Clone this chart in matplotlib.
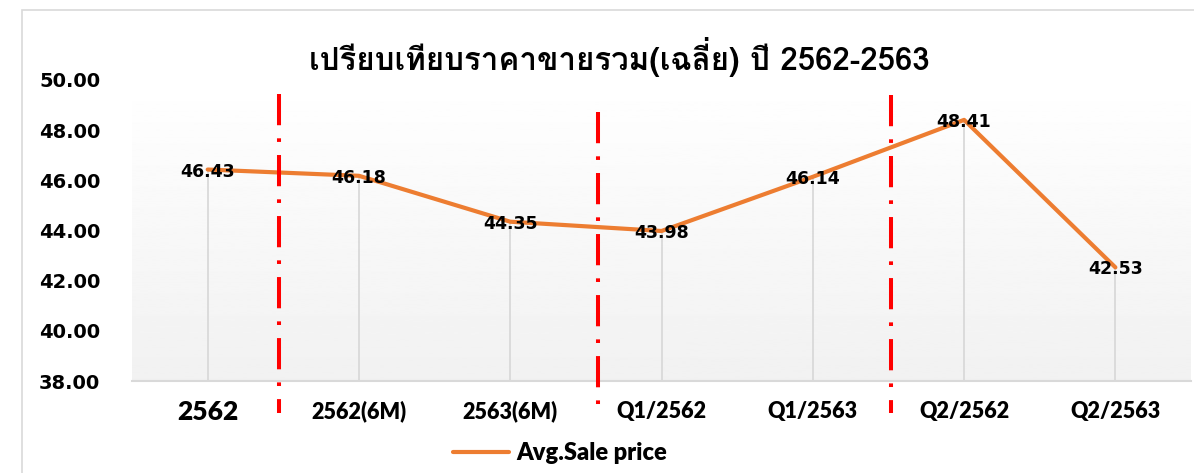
import numpy as np
import matplotlib
matplotlib.use("Agg")
import matplotlib.pyplot as plt
from matplotlib import font_manager
from matplotlib.ft2font import FT2Font
from matplotlib.patches import Rectangle

TITLE = "เปรียบเทียบราคาขายรวม(เฉลี่ย) ปี 2562-2563"
categories = ["2562", "2562(6M)", "2563(6M)", "Q1/2562", "Q1/2563", "Q2/2562", "Q2/2563"]
avg_price = [46.43, 46.18, 44.35, 43.98, 46.14, 48.41, 42.53]
y_ticks = [38, 40, 42, 44, 46, 48, 50]
series_name = "Avg.Sale price"

ORANGE = "#ED7D31"
LIGHT = "#D9D9D9"


def find_thai_font():
    # pick the first installed font that actually has Thai glyphs
    seen = set()
    for f in font_manager.fontManager.ttflist:
        if f.fname in seen:
            continue
        seen.add(f.fname)
        try:
            cmap = FT2Font(f.fname).get_charmap()
        except Exception:
            continue
        if 0x0E1B in cmap and 0x0E40 in cmap:
            return f.name
    return "DejaVu Sans"


thai_font = find_thai_font()

fig = plt.figure(figsize=(11.94, 4.73), dpi=100)
ax = fig.add_axes([0.1106, 0.1945, 0.8869, 0.6364])

x = np.arange(len(categories))

# soft vertical gradient behind the plot area
grad = np.linspace(1.0, 0.945, 256).reshape(-1, 1)
ax.imshow(grad, cmap="gray", vmin=0, vmax=1, aspect="auto",
          extent=[0, 1, 0, 1], transform=ax.transAxes, zorder=0)

ax.vlines(x, y_ticks[0], avg_price, color=LIGHT, lw=1.3, zorder=1)
ax.plot(x, avg_price, color=ORANGE, lw=3, solid_capstyle="round",
        label=series_name, zorder=3)

for xi, v in zip(x, avg_price):
    ax.text(xi, v - 0.08, f"{v:.2f}", ha="center", va="center",
            fontsize=12.5, fontweight="bold", color="black", zorder=4)

# red dash-dot separators between period groups (drawn top to bottom)
separators = [(0.47, 49.44, 36.73), (2.58, 48.73, 36.77), (4.52, 49.42, 36.73)]
for sx, top, bot in separators:
    ax.plot([sx, sx], [top, bot], color="#FF0000", lw=2.9,
            linestyle=(0, (7.75, 3.25, 0.9, 3.25)), clip_on=False, zorder=5)

ax.set_xlim(-0.5, len(categories) - 0.5)
ax.set_ylim(y_ticks[0], y_ticks[-1])
ax.set_yticks(y_ticks)
ax.set_yticklabels([f"{t:.2f}" for t in y_ticks], fontsize=14, fontweight="bold")
ax.set_xticks(x)
ax.set_xticklabels(categories, fontsize=15.5, fontweight="heavy", family="Lato", va="center")
ax.get_xticklabels()[0].set_fontsize(19)
ax.tick_params(axis="y", length=0, pad=23)
ax.tick_params(axis="x", length=0, pad=22)

for side in ["left", "right", "top"]:
    ax.spines[side].set_visible(False)
ax.spines["bottom"].set_color(LIGHT)
ax.spines["bottom"].set_linewidth(1.5)

fig.text(0.519, 0.879, TITLE, ha="center", va="center", fontsize=22.5,
         fontweight="bold", family=[thai_font, "DejaVu Sans"])

leg = fig.legend(loc="center", bbox_to_anchor=(0.469, 1 - 453 / 473), frameon=False,
                 handlelength=2.4, handletextpad=0.3,
                 prop={"family": "Lato", "weight": "heavy", "size": 17})

# outer chart border
fig.patches.append(Rectangle((22 / 1194, -0.05), 1.0, 1 - 10 / 473 + 0.05,
                             transform=fig.transFigure, fill=False,
                             edgecolor=LIGHT, lw=1.2))

fig.savefig("out.png", dpi=100, facecolor="white")
